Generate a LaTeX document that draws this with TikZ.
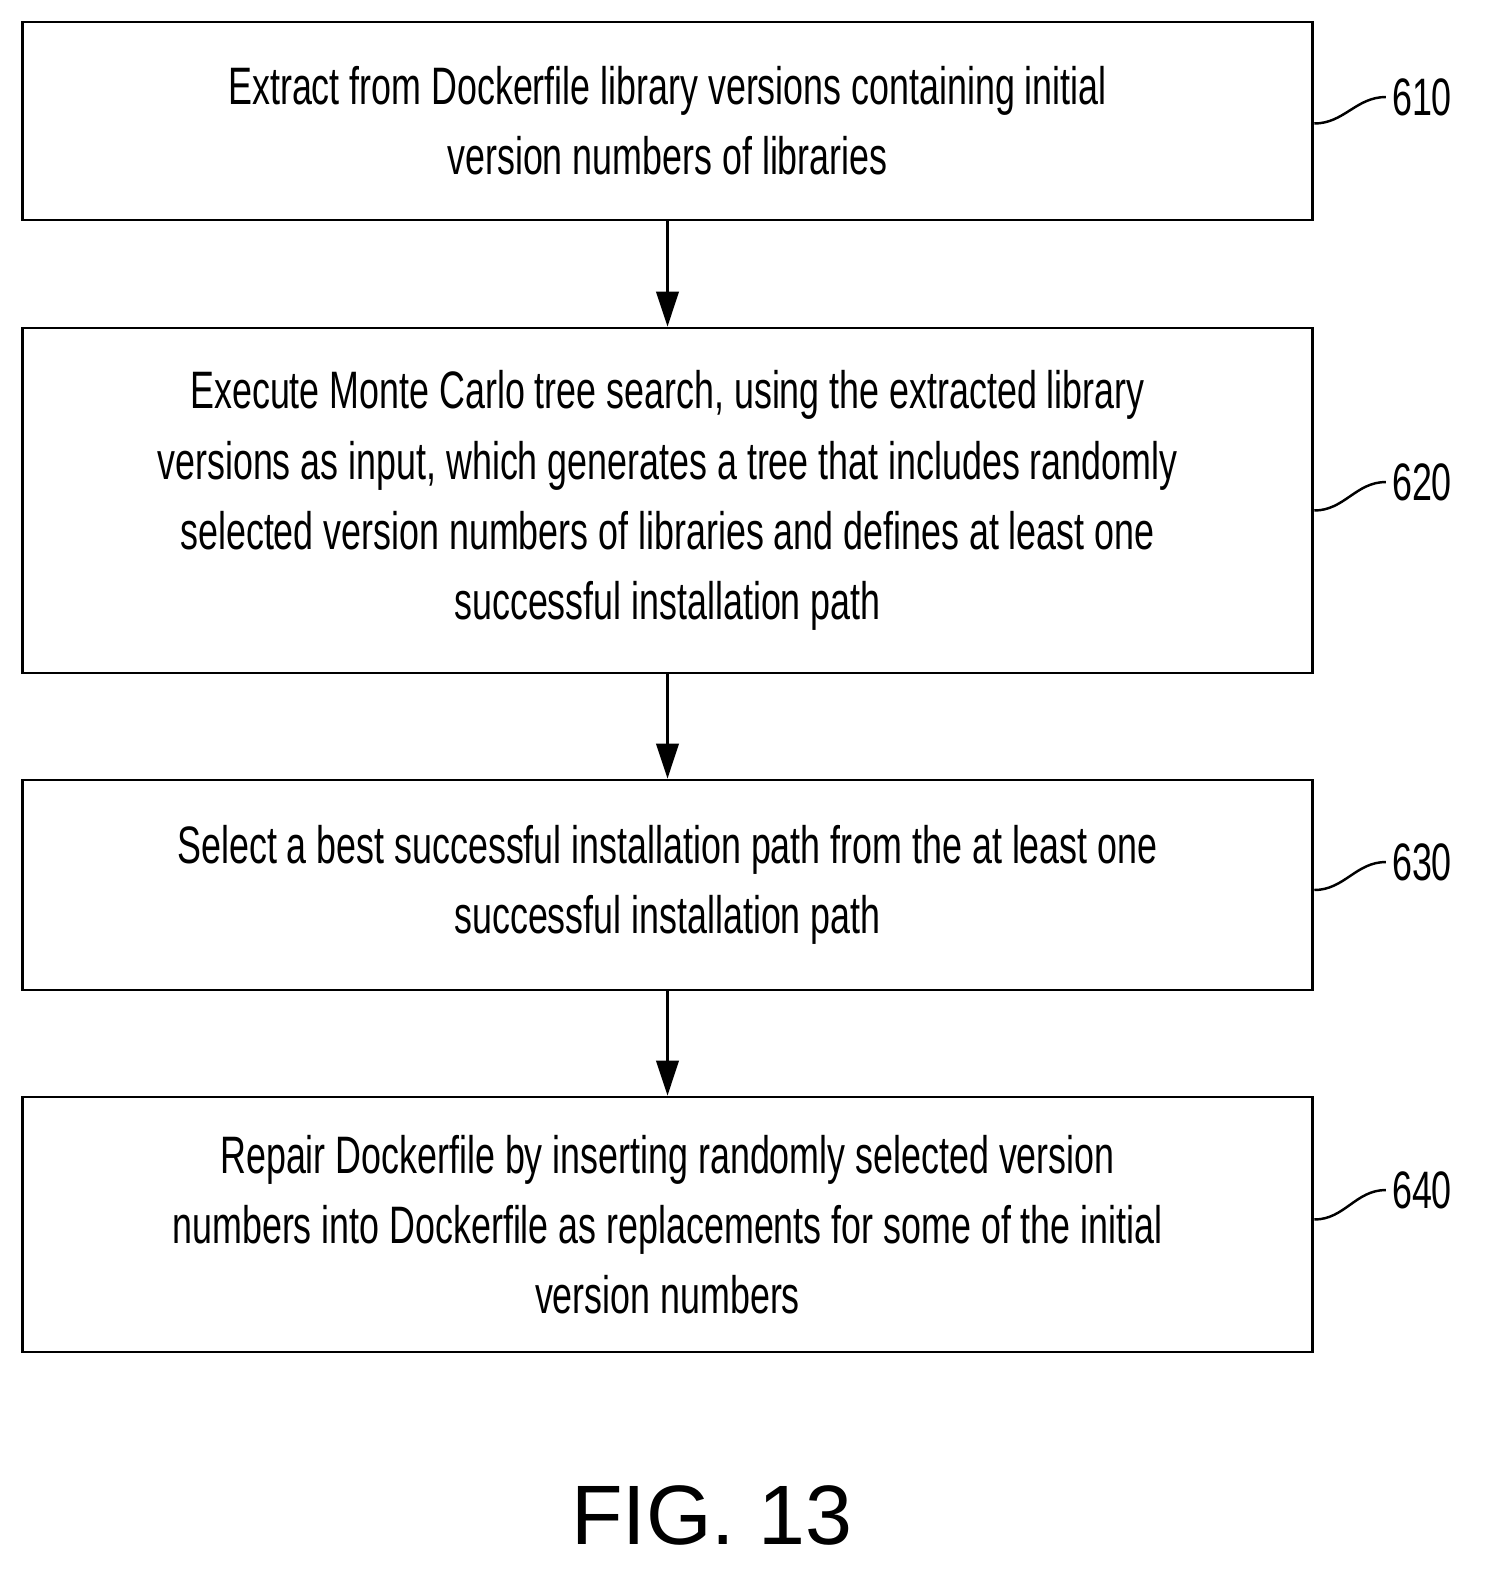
\documentclass[tikz,border=0pt]{standalone}
\usepackage{fontspec}
\setmainfont{Liberation Sans}[FakeStretch=0.68]
\newfontfamily\figfont{Liberation Sans}
\usetikzlibrary{positioning,arrows.meta}
\tikzset{
  stepbox/.style={draw, line width=1.6pt, minimum width=25.82cm, align=center,
    font=\fontsize{30}{40}\selectfont},
  ref/.style={font=\fontsize{30}{36}\selectfont},
  flow/.style={line width=1.4pt, -{Triangle[length=0.7cm,width=0.45cm]}},
  lead/.style={line width=1.4pt}
}
\begin{document}
\begin{tikzpicture}[x=0.02cm,y=-0.02cm]
    \useasboundingbox (0,0) rectangle (1496,1593);

    % steps
    \node[stepbox, minimum height=3.96cm] (b1) at (667.5,121)
      {Extract from Dockerfile library versions containing initial\\version numbers of libraries};
    \node[stepbox, minimum height=6.9cm] (b2) at (667.5,500.5)
      {Execute Monte Carlo tree search, using the extracted library\\versions as input, which generates a tree that includes randomly\\selected version numbers of libraries and defines at least one\\successful installation path};
    \node[stepbox, minimum height=4.2cm] (b3) at (667.5,885)
      {Select a best successful installation path from the at least one\\successful installation path};
    \node[stepbox, minimum height=5.1cm] (b4) at (667.5,1224.5)
      {Repair Dockerfile by inserting randomly selected version\\numbers into Dockerfile as replacements for some of the initial\\version numbers};

    % arrows
    \draw[flow] (b1) -- (b2);
    \draw[flow] (b2) -- (b3);
    \draw[flow] (b3) -- (b4);

    % reference numerals
    \node[ref] (l610) at (1422,97) {610};
    \node[ref] (l620) at (1422,482) {620};
    \node[ref] (l630) at (1422,862) {630};
    \node[ref] (l640) at (1422,1190) {640};
    \draw[lead] ([yshift=-0.05cm]b1.east) to[out=0,in=180] (l610.west);
    \draw[lead] ([yshift=-0.2cm]b2.east) to[out=0,in=180] (l620.west);
    \draw[lead] ([yshift=-0.1cm]b3.east) to[out=0,in=180] (l630.west);
    \draw[lead] ([yshift=0.1cm]b4.east) to[out=0,in=180] (l640.west);

    \node[font=\figfont\fontsize{48}{50}\selectfont] (fig) at (712,1515) {FIG. 13};
\end{tikzpicture}
\end{document}
